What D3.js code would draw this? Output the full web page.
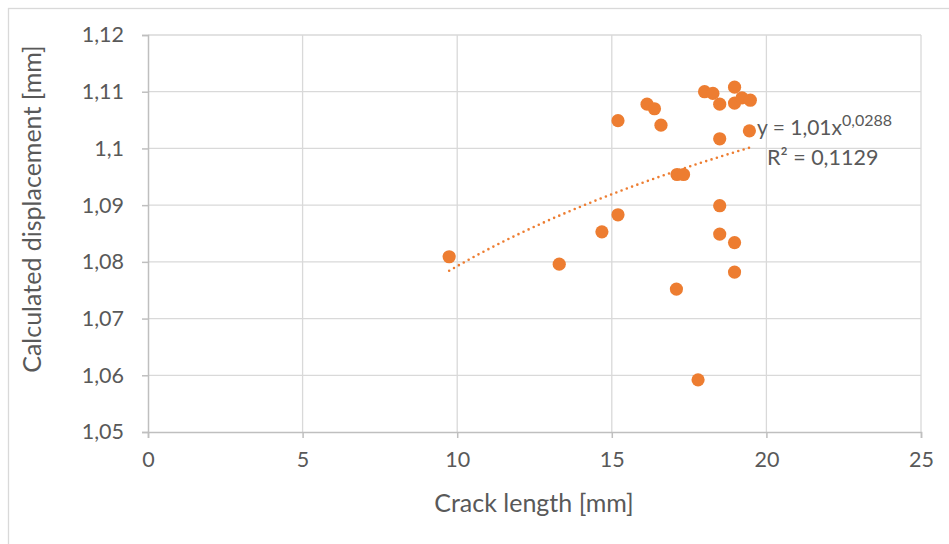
<!DOCTYPE html>
<html>
<head>
<meta charset="utf-8">
<script src="https://cdn.jsdelivr.net/npm/d3@7"></script>
<style>
  body { margin: 0; background: #fff; }
  svg text { font-family: Lato, "Open Sans", sans-serif; fill: #595959; }
</style>
</head>
<body>
<svg id="chart" width="949" height="544"></svg>
<script>
// Measured specimens: crack length [mm] vs. calculated displacement [mm]
const crackLength = [
  9.74, 13.30, 14.68, 15.20, 15.20, 16.14, 16.38, 16.59, 17.11, 17.32,
  17.09, 17.79, 18.00, 18.27, 18.49, 18.49, 18.49, 18.49, 18.97, 18.97,
  18.97, 18.97, 19.21, 19.48, 19.45
];
const displacement = [
  1.0809, 1.0796, 1.0853, 1.0883, 1.1049, 1.1078, 1.1070, 1.1041, 1.0954, 1.0954,
  1.0752, 1.0592, 1.1100, 1.1097, 1.1078, 1.1017, 1.0899, 1.0849, 1.1108, 1.1080,
  1.0834, 1.0782, 1.1089, 1.1085, 1.1031
];
const xTicks = [0, 5, 10, 15, 20, 25];
const yTicks = [1.05, 1.06, 1.07, 1.08, 1.09, 1.10, 1.11, 1.12];

// Power trendline y = a * x^b
const trendA = 1.01;
const trendB = 0.0288;
const rSquared = 0.1129;

const xTitle = "Crack length [mm]";
const yTitle = "Calculated displacement [mm]";

const locale = d3.formatLocale({ decimal: ",", thousands: " ", grouping: [3], currency: ["", ""] });
const fmtY = locale.format(".3~g");
const fmtX = locale.format("d");

const svg = d3.select("#chart");

const x = d3.scaleLinear().domain([0, 25]).range([148, 921]);
const y = d3.scaleLinear().domain([1.05, 1.12]).range([432, 35]);

// chart frame (only the top and left edges fall inside the view)
svg.append("rect")
  .attr("x", 8.5).attr("y", 8.5)
  .attr("width", 960).attr("height", 560)
  .attr("fill", "none").attr("stroke", "#d9d9d9").attr("stroke-width", 1.3);

// grid
const grid = svg.append("g");
grid.selectAll("line.h").data(yTicks.slice(1)).join("line")
  .attr("x1", x(0)).attr("x2", x(25))
  .attr("y1", d => y(d)).attr("y2", d => y(d))
  .attr("stroke", "#d9d9d9").attr("stroke-width", 1.3);
grid.selectAll("line.v").data(xTicks.slice(1)).join("line")
  .attr("x1", d => x(d)).attr("x2", d => x(d))
  .attr("y1", y(1.12)).attr("y2", y(1.05))
  .attr("stroke", "#d9d9d9").attr("stroke-width", 1.3);

// axes
const xAxis = svg.append("g").attr("transform", `translate(0,${y(1.05)})`)
  .call(d3.axisBottom(x).tickValues(xTicks).tickFormat(fmtX).tickSize(6).tickPadding(14));
const yAxis = svg.append("g").attr("transform", `translate(${x(0)},0)`)
  .call(d3.axisLeft(y).tickValues(yTicks).tickFormat(fmtY).tickSize(6).tickPadding(18));
[xAxis, yAxis].forEach(g => {
  g.select(".domain").attr("stroke", "#bfbfbf").attr("stroke-width", 1.5);
  g.selectAll(".tick line").attr("stroke", "#bfbfbf").attr("stroke-width", 1.5);
  g.selectAll(".tick text").attr("font-size", 21.5).attr("fill", "#595959")
    .style("font-family", "Lato, sans-serif");
});

// axis titles
svg.append("text")
  .attr("x", 534).attr("y", 512)
  .attr("text-anchor", "middle").attr("font-size", 25)
  .text(xTitle);
svg.append("text")
  .attr("transform", `translate(41,209) rotate(-90)`)
  .attr("text-anchor", "middle").attr("font-size", 25)
  .text(yTitle);

// power trendline over the data range, dotted
const xMin = d3.min(crackLength), xMax = d3.max(crackLength);
const trendPts = d3.range(0, 61).map(i => {
  const xv = xMin + (xMax - xMin) * i / 60;
  return [xv, trendA * Math.pow(xv, trendB)];
});
svg.append("path")
  .datum(trendPts)
  .attr("d", d3.line().x(d => x(d[0])).y(d => y(d[1])))
  .attr("fill", "none")
  .attr("stroke", "#ED7D31")
  .attr("stroke-width", 2.6)
  .attr("stroke-linecap", "round")
  .attr("stroke-dasharray", "0 5.6");

// points
svg.append("g").selectAll("circle")
  .data(crackLength.map((c, i) => [c, displacement[i]]))
  .join("circle")
  .attr("cx", d => x(d[0])).attr("cy", d => y(d[1]))
  .attr("r", 6.6)
  .attr("fill", "#ED7D31");

// trendline equation
const eq = svg.append("text").attr("x", 757).attr("y", 135).attr("font-size", 21);
eq.append("tspan").text("y = " + locale.format(".2f")(trendA) + "x");
eq.append("tspan").attr("dy", -9).attr("font-size", 16).text(locale.format(".4f")(trendB));
svg.append("text").attr("x", 767).attr("y", 165).attr("font-size", 21.5)
  .text("R² = " + locale.format(".4f")(rSquared));
</script>
</body>
</html>
